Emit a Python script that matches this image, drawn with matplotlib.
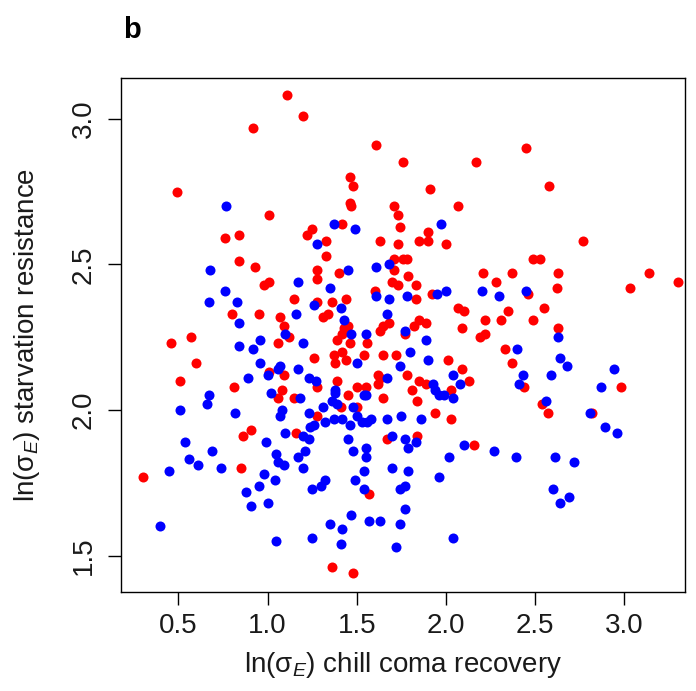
import matplotlib
matplotlib.use("Agg")
import matplotlib.pyplot as plt

plt.rcParams["font.family"] = ["Liberation Sans", "DejaVu Sans"]
plt.rcParams["mathtext.fontset"] = "custom"
plt.rcParams["mathtext.rm"] = "Liberation Sans"
plt.rcParams["mathtext.it"] = "Liberation Sans:italic"

# red group
red_x = [1.11, 1.20, 0.92, 1.61, 1.76, 1.46, 1.48, 0.49, 1.01, 1.46, 1.47, 1.71, 1.73, 1.74, 1.42,
         0.76, 0.84, 1.25, 1.22, 1.33, 1.63, 1.73, 1.33, 2.45, 2.17, 2.58, 1.91, 2.07, 1.90, 1.85,
         1.90, 2.00, 2.77, 1.71, 1.76, 1.78, 0.84, 0.93, 1.28, 1.71, 1.40, 1.28, 0.98, 1.01, 1.70,
         1.73, 1.79, 1.60, 1.15, 1.28, 1.36, 1.44, 0.80, 0.95, 1.07, 1.31, 1.34, 1.09, 1.43, 1.45,
         1.68, 1.65, 1.63, 1.77, 0.46, 0.57, 1.12, 1.06, 1.39, 1.46, 1.56, 1.42, 1.26, 1.37, 1.38,
         1.42, 1.44, 1.54, 1.65, 1.72, 0.60, 1.01, 1.09, 1.28, 0.51, 0.81, 1.08, 1.06, 1.15, 1.39,
         1.45, 1.41, 1.50, 1.50, 1.55, 1.62, 1.63, 1.62, 1.65, 1.78, 1.28, 2.49, 2.53, 2.21, 2.37,
         2.63, 3.14, 3.30, 1.83, 2.28, 2.62, 3.03, 2.46, 1.83, 1.92, 2.07, 2.10, 2.35, 2.55, 2.22,
         2.31, 2.49, 1.85, 1.89, 1.82, 2.09, 2.63, 2.19, 2.22, 2.33, 2.01, 2.37, 2.09, 2.13, 2.98,
         2.44, 1.81, 1.85, 1.89, 2.03, 1.84, 2.54, 2.57, 2.82, 1.94, 2.03, 0.86, 0.91, 1.16, 1.67,
         0.85, 0.30, 1.57, 1.36, 1.48, 1.84, 2.16]
red_y = [3.08, 3.01, 2.97, 2.91, 2.85, 2.80, 2.77, 2.75, 2.67, 2.71, 2.70, 2.70, 2.67, 2.63, 2.64,
         2.59, 2.60, 2.62, 2.60, 2.58, 2.58, 2.57, 2.53, 2.90, 2.85, 2.77, 2.76, 2.70, 2.61, 2.58,
         2.58, 2.57, 2.58, 2.52, 2.52, 2.52, 2.51, 2.49, 2.48, 2.48, 2.47, 2.45, 2.43, 2.44, 2.44,
         2.43, 2.46, 2.41, 2.38, 2.37, 2.37, 2.38, 2.33, 2.33, 2.32, 2.32, 2.33, 2.29, 2.28, 2.29,
         2.30, 2.29, 2.27, 2.26, 2.23, 2.25, 2.25, 2.23, 2.24, 2.23, 2.23, 2.26, 2.18, 2.19, 2.16,
         2.20, 2.17, 2.19, 2.19, 2.19, 2.16, 2.13, 2.12, 2.08, 2.10, 2.08, 2.07, 2.04, 2.04, 2.10,
         2.05, 2.01, 2.01, 2.08, 2.08, 2.12, 2.11, 2.09, 2.04, 2.12, 1.98, 2.52, 2.52, 2.47, 2.47,
         2.47, 2.47, 2.44, 2.43, 2.44, 2.42, 2.42, 2.40, 2.38, 2.40, 2.35, 2.34, 2.34, 2.35, 2.31,
         2.31, 2.31, 2.31, 2.30, 2.29, 2.28, 2.28, 2.25, 2.26, 2.21, 2.17, 2.16, 2.14, 2.10, 2.08,
         2.08, 2.07, 2.10, 2.09, 2.07, 2.03, 2.02, 1.99, 1.99, 1.99, 1.97, 1.91, 1.93, 1.92, 1.90,
         1.80, 1.77, 1.71, 1.46, 1.44, 1.91, 1.88]

# blue group
blue_x = [0.77, 1.37, 1.49, 1.28, 1.97, 0.68, 1.45, 1.61, 1.68, 1.17, 0.76, 1.35, 1.61, 0.67, 0.83,
          1.26, 1.41, 1.68, 1.78, 1.16, 1.67, 0.84, 1.43, 1.77, 0.84, 0.92, 0.96, 1.10, 1.20, 1.47,
          1.55, 1.50, 1.74, 0.96, 1.06, 1.07, 1.00, 1.17, 1.23, 1.27, 0.89, 0.67, 0.66, 0.51, 0.82,
          1.02, 1.08, 1.07, 1.18, 1.23, 1.31, 1.36, 1.38, 1.38, 1.39, 1.48, 1.50, 1.54, 1.55, 1.67,
          1.75, 2.20, 2.30, 2.45, 1.95, 2.00, 2.63, 1.89, 1.80, 2.40, 1.90, 2.64, 2.68, 2.04, 2.08,
          2.43, 2.59, 2.94, 2.87, 2.41, 1.93, 1.94, 1.96, 1.99, 2.04, 2.56, 2.81, 1.86, 1.37, 1.42,
          1.46, 1.53, 1.56, 1.58, 1.67, 1.32, 1.26, 1.24, 1.10, 1.20, 1.23, 1.45, 1.70, 1.77, 1.83,
          1.79, 0.54, 0.99, 1.21, 1.48, 1.55, 0.69, 0.56, 0.61, 1.05, 1.17, 1.55, 1.06, 1.09, 0.45,
          0.74, 1.20, 1.70, 0.98, 1.04, 0.95, 0.88, 1.32, 1.30, 1.25, 1.49, 1.54, 1.54, 1.79, 1.74,
          1.77, 0.91, 1.00, 0.40, 1.35, 1.47, 1.42, 1.57, 1.63, 1.74, 1.77, 1.05, 1.25, 1.41, 1.72,
          2.10, 2.27, 2.39, 2.02, 2.61, 2.72, 2.89, 2.96, 1.96, 2.60, 2.69, 2.64, 2.04]
blue_y = [2.70, 2.64, 2.62, 2.57, 2.64, 2.48, 2.48, 2.49, 2.50, 2.44, 2.41, 2.42, 2.39, 2.37, 2.37,
          2.36, 2.35, 2.38, 2.39, 2.33, 2.33, 2.30, 2.31, 2.27, 2.22, 2.21, 2.24, 2.26, 2.23, 2.26,
          2.26, 2.16, 2.15, 2.16, 2.14, 2.15, 2.12, 2.14, 2.11, 2.10, 2.11, 2.05, 2.02, 2.00, 1.99,
          2.06, 2.00, 1.98, 2.04, 1.99, 2.01, 2.03, 2.07, 2.06, 2.02, 2.01, 1.98, 2.05, 2.05, 2.11,
          1.98, 2.41, 2.39, 2.41, 2.40, 2.41, 2.25, 2.24, 2.20, 2.21, 2.17, 2.18, 2.15, 2.12, 2.09,
          2.12, 2.12, 2.14, 2.08, 2.09, 2.09, 2.07, 2.05, 2.05, 2.04, 2.03, 1.99, 1.97, 1.97, 1.97,
          1.95, 1.96, 1.96, 1.97, 1.97, 1.96, 1.95, 1.94, 1.92, 1.91, 1.90, 1.90, 1.91, 1.90, 1.89,
          1.87, 1.89, 1.89, 1.86, 1.86, 1.87, 1.86, 1.83, 1.81, 1.85, 1.84, 1.84, 1.82, 1.81, 1.79,
          1.80, 1.80, 1.80, 1.78, 1.76, 1.74, 1.72, 1.76, 1.74, 1.73, 1.76, 1.79, 1.73, 1.79, 1.73,
          1.74, 1.67, 1.68, 1.60, 1.61, 1.64, 1.59, 1.62, 1.62, 1.61, 1.66, 1.55, 1.56, 1.54, 1.53,
          1.88, 1.86, 1.84, 1.84, 1.84, 1.82, 1.94, 1.92, 1.77, 1.73, 1.70, 1.68, 1.56]

x_ticks = [0.5, 1.0, 1.5, 2.0, 2.5, 3.0]
y_ticks = [1.5, 2.0, 2.5, 3.0]

fig = plt.figure(figsize=(6.96, 6.91), dpi=100)
ax = fig.add_axes([0.1739, 0.1433, 0.8103, 0.7438])

ax.scatter(red_x, red_y, s=52, c="#ff0000", linewidths=0, zorder=2)
ax.scatter(blue_x, blue_y, s=52, c="#0000ff", linewidths=0, zorder=3)

ax.set_xlim(0.179, 3.34)
ax.set_ylim(1.375, 3.140)
ax.set_xticks(x_ticks)
ax.set_yticks(y_ticks)
ax.set_xticklabels(["%.1f" % v for v in x_ticks])
ax.set_yticklabels(["%.1f" % v for v in y_ticks])

for sp in ax.spines.values():
    sp.set_linewidth(1.0)
    sp.set_color("black")

ax.tick_params(axis="both", direction="out", length=9.4, width=1.0,
               labelsize=20, colors="black", labelcolor="#1a1a1a")
ax.tick_params(axis="x", pad=6)
ax.tick_params(axis="y", pad=8, labelrotation=90)
for lbl in ax.get_yticklabels():
    lbl.set_va("center")

ax.set_xlabel(r"ln($\mathrm{\sigma}_E$) chill coma recovery", fontsize=20, color="#1a1a1a", va="center")
ax.set_ylabel(r"ln($\mathrm{\sigma}_E$) starvation resistance", fontsize=20, color="#1a1a1a", va="center")
ax.xaxis.set_label_coords(0.5, -0.142)
ax.yaxis.set_label_coords(-0.167, 0.5)

fig.text(123 / 696, 1 - 38 / 691, "b", fontsize=21, fontweight="bold", ha="left", va="baseline")

fig.savefig("out.png", dpi=100)
